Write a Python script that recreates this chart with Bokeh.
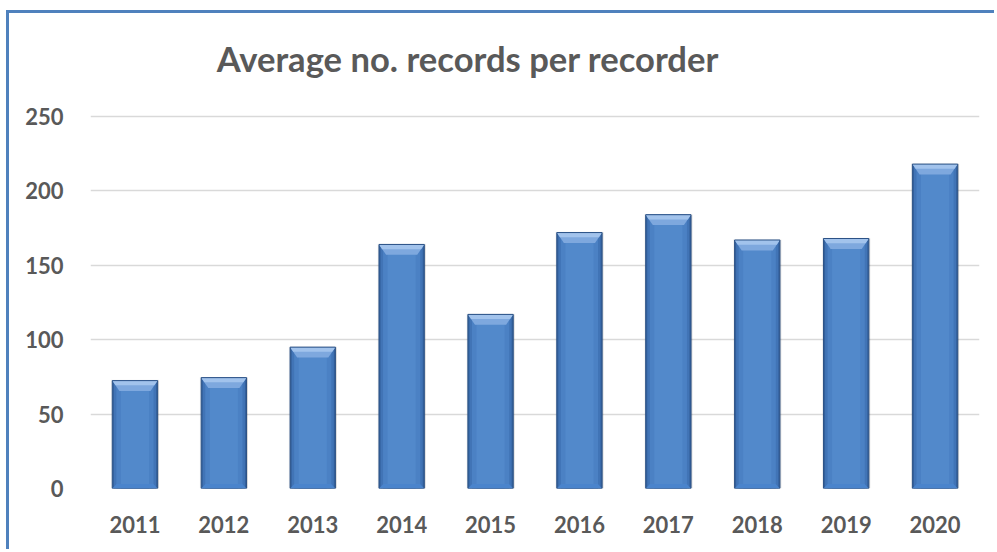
import numpy as np
from bokeh.plotting import figure
from bokeh.models import Range1d, FixedTicker, ColumnDataSource
from bokeh.core.properties import value
from bokeh.embed import file_html
from bokeh.resources import INLINE

years = ["2011", "2012", "2013", "2014", "2015", "2016", "2017", "2018", "2019", "2020"]
values = [72.5, 74.5, 95, 164, 117, 172, 184, 167, 168, 218]
y_ticks = [0, 50, 100, 150, 200, 250]
title_text = "Average no. records per recorder"

xs = np.arange(len(years))
vals = np.array(values, dtype=float)

# frame spans the full height above the axis; the headroom above 250 holds the title
y_top = 319.2
p = figure(width=988, height=539, output_backend="svg", toolbar_location=None,
           x_range=Range1d(-0.5, len(years) - 0.5), y_range=Range1d(0, y_top),
           min_border_left=81, min_border_right=18, min_border_top=0, min_border_bottom=64,
           margin=(10, 0, 0, 6))
p.styles = {"border-top": "3px solid #4f81bd", "border-left": "3px solid #4f81bd"}
p.outline_line_color = None
p.background_fill_color = "white"
p.border_fill_color = "white"

# grid
p.xgrid.grid_line_color = None
p.ygrid.grid_line_color = "#d9d9d9"
p.ygrid.grid_line_width = 1.5
p.yaxis.ticker = FixedTicker(ticks=y_ticks)
p.xaxis.ticker = FixedTicker(ticks=list(xs))
p.xaxis.major_label_overrides = {int(i): y for i, y in zip(xs, years)}

for ax in (p.xaxis, p.yaxis):
    ax.axis_line_color = None
    ax.major_tick_line_color = None
    ax.minor_tick_line_color = None
    ax.major_label_text_font = "Lato"
    ax.major_label_text_font_style = "bold"
    ax.major_label_text_font_size = "22px"
    ax.major_label_text_color = "#595959"
p.yaxis.major_label_standoff = 21
p.xaxis.major_label_standoff = 21

w = 0.51
src = ColumnDataSource(dict(x=xs, top=vals))
# soft shadow
p.vbar(x=xs, top=vals + 0.5, width=w + 0.03, bottom=0, fill_color="#000000", fill_alpha=0.06, line_color=None)
p.vbar(x=xs + 0.01, top=vals, width=w + 0.012, bottom=0, fill_color="#000000", fill_alpha=0.10, line_color=None)
# base with horizontal shading
p.vbar(x="x", top="top", width=w, source=src, fill_color="#33609c", line_color=None)
p.vbar(x="x", top="top", width=w * 0.93, source=src, fill_color="#4174b6", line_color=None)
p.vbar(x="x", top="top", width=w * 0.82, source=src, fill_color="#4b81c4", line_color=None)
p.vbar(x="x", top="top", width=w * 0.62, source=src, fill_color="#5289cb", line_color=None)
# top bevel
bev_h = 7
bev_d = 0.08
pxs, pys, pxs2, pys2 = [], [], [], []
for xi, v in zip(xs, vals):
    pxs.append([xi - w / 2, xi + w / 2, xi + w / 2 - bev_d, xi - w / 2 + bev_d])
    pys.append([v, v, v - bev_h, v - bev_h])
    pxs2.append([xi - w / 2, xi + w / 2, xi + w / 2 - bev_d * 0.45, xi - w / 2 + bev_d * 0.45])
    pys2.append([v, v, v - bev_h * 0.45, v - bev_h * 0.45])
p.patches(pxs, pys, fill_color="#7ea8de", line_color=None)
p.patches(pxs2, pys2, fill_color="#a2c3ec", line_color=None)
# bottom subtle bevel
bxs, bys = [], []
for xi in xs:
    bxs.append([xi - w / 2, xi + w / 2, xi + w / 2 - bev_d * 0.6, xi - w / 2 + bev_d * 0.6])
    bys.append([0, 0, 3, 3])
p.patches(bxs, bys, fill_color="#4a84cc", line_color=None)
p.vbar(x="x", top="top", width=w, source=src, fill_color=None, line_color="#2c5286", line_width=1)

# title
p.text(x=[3.745], y=[289], text=[title_text], text_font=value("Lato"), text_font_style="bold",
       text_font_size="34.6px", text_color="#595959", text_align="center", text_baseline="middle")

open("out.html", "w").write(file_html(p, INLINE))
